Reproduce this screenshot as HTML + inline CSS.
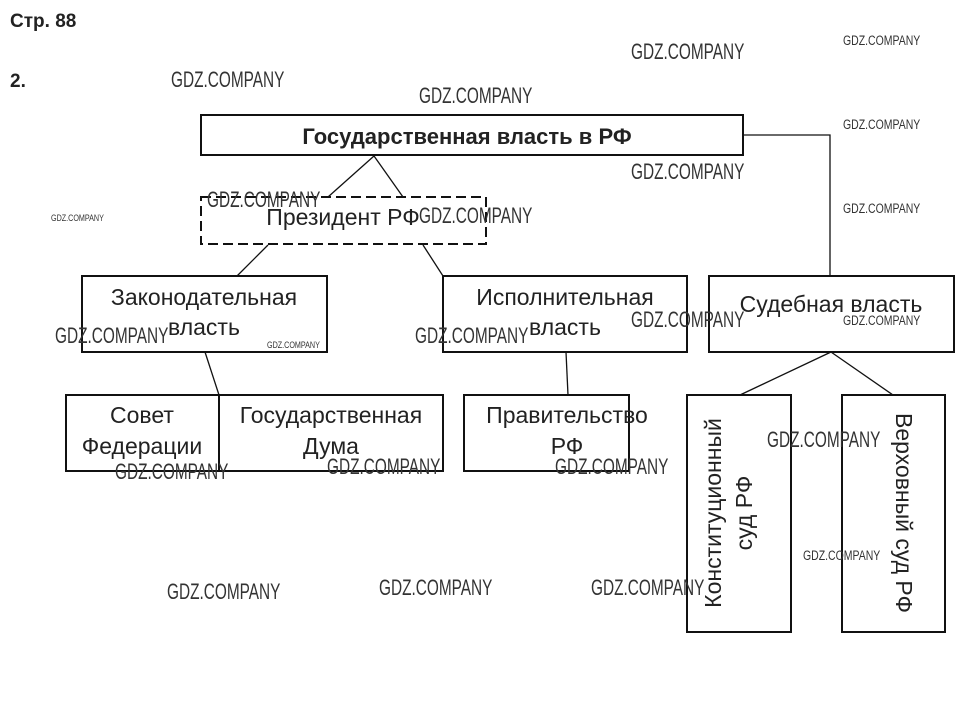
<!DOCTYPE html>
<html><head><meta charset="utf-8"><style>
html,body{margin:0;padding:0;background:#fff}
svg{display:block}
text{font-family:"Liberation Sans",sans-serif;fill:#222}
.w{fill:#333;font-size:22px}
.ws{fill:#333;font-size:14px}
.wt{fill:#333;font-size:9px}
</style></head><body>
<svg width="965" height="718" viewBox="0 0 965 718" xmlns="http://www.w3.org/2000/svg">
<text x="10" y="27" font-size="19" font-weight="bold">Стр. 88</text>
<text x="10" y="87" font-size="19" font-weight="bold">2.</text>
<g fill="none" stroke="#111" stroke-width="2">
<rect x="201" y="115" width="542" height="40"/>
<rect x="201" y="197" width="285" height="47" stroke-dasharray="10,5"/>
<rect x="82" y="276" width="245" height="76"/>
<rect x="443" y="276" width="244" height="76"/>
<rect x="709" y="276" width="245" height="76"/>
<rect x="66" y="395" width="377" height="76"/>
<line x1="219" y1="395" x2="219" y2="471"/>
<rect x="464" y="395" width="165" height="76"/>
<rect x="687" y="395" width="104" height="237"/>
<rect x="842" y="395" width="103" height="237"/>
</g>
<g stroke="#111" stroke-width="1.3" fill="none">
<line x1="374" y1="156" x2="328" y2="197"/>
<line x1="374" y1="156" x2="403" y2="197"/>
<line x1="268" y1="245" x2="237" y2="276"/>
<line x1="423" y1="245" x2="443" y2="276"/>
<polyline points="743,135 830,135 830,276"/>
<line x1="205" y1="352" x2="219" y2="395"/>
<line x1="566" y1="352" x2="568" y2="395"/>
<line x1="831" y1="352" x2="740" y2="395"/>
<line x1="831" y1="352" x2="893" y2="395"/>
</g>
<text x="467" y="144" font-size="22" font-weight="bold" text-anchor="middle">Государственная власть в РФ</text>
<text x="343" y="225" font-size="23" text-anchor="middle">Президент РФ</text>
<text x="204" y="305" font-size="23" text-anchor="middle">Законодательная</text>
<text x="204" y="335" font-size="23" text-anchor="middle">власть</text>
<text x="565" y="305" font-size="23" text-anchor="middle">Исполнительная</text>
<text x="565" y="335" font-size="23" text-anchor="middle">власть</text>
<text x="831" y="312" font-size="23" text-anchor="middle">Судебная власть</text>
<text x="142" y="423" font-size="23" text-anchor="middle">Совет</text>
<text x="142" y="454" font-size="23" text-anchor="middle">Федерации</text>
<text x="331" y="423" font-size="23" text-anchor="middle">Государственная</text>
<text x="331" y="454" font-size="23" text-anchor="middle">Дума</text>
<text x="567" y="423" font-size="23" text-anchor="middle">Правительство</text>
<text x="567" y="454" font-size="23" text-anchor="middle">РФ</text>
<text transform="translate(721,513) rotate(-90)" font-size="23" text-anchor="middle">Конституционный</text>
<text transform="translate(752,513) rotate(-90)" font-size="23" text-anchor="middle">суд РФ</text>
<text transform="translate(896,513) rotate(90)" font-size="23" text-anchor="middle">Верховный суд РФ</text>
<g>
<text class="w" transform="translate(631,59) scale(0.7,1)">GDZ.COMPANY</text>
<text class="w" transform="translate(171,87) scale(0.7,1)">GDZ.COMPANY</text>
<text class="w" transform="translate(419,103) scale(0.7,1)">GDZ.COMPANY</text>
<text class="w" transform="translate(631,179) scale(0.7,1)">GDZ.COMPANY</text>
<text class="w" transform="translate(207,207) scale(0.7,1)">GDZ.COMPANY</text>
<text class="w" transform="translate(419,223) scale(0.7,1)">GDZ.COMPANY</text>
<text class="w" transform="translate(55,343) scale(0.7,1)">GDZ.COMPANY</text>
<text class="w" transform="translate(415,343) scale(0.7,1)">GDZ.COMPANY</text>
<text class="w" transform="translate(631,327) scale(0.7,1)">GDZ.COMPANY</text>
<text class="w" transform="translate(767,447) scale(0.7,1)">GDZ.COMPANY</text>
<text class="w" transform="translate(115,479) scale(0.7,1)">GDZ.COMPANY</text>
<text class="w" transform="translate(327,474) scale(0.7,1)">GDZ.COMPANY</text>
<text class="w" transform="translate(555,474) scale(0.7,1)">GDZ.COMPANY</text>
<text class="w" transform="translate(167,599) scale(0.7,1)">GDZ.COMPANY</text>
<text class="w" transform="translate(379,595) scale(0.7,1)">GDZ.COMPANY</text>
<text class="w" transform="translate(591,595) scale(0.7,1)">GDZ.COMPANY</text>
<text class="ws" transform="translate(843,45) scale(0.75,1)">GDZ.COMPANY</text>
<text class="ws" transform="translate(843,129) scale(0.75,1)">GDZ.COMPANY</text>
<text class="ws" transform="translate(843,213) scale(0.75,1)">GDZ.COMPANY</text>
<text class="ws" transform="translate(843,325) scale(0.75,1)">GDZ.COMPANY</text>
<text class="ws" transform="translate(803,560) scale(0.75,1)">GDZ.COMPANY</text>
<text class="wt" transform="translate(51,221) scale(0.8,1)">GDZ.COMPANY</text>
<text class="wt" transform="translate(267,348) scale(0.8,1)">GDZ.COMPANY</text>
</g>
</svg>
</body></html>
